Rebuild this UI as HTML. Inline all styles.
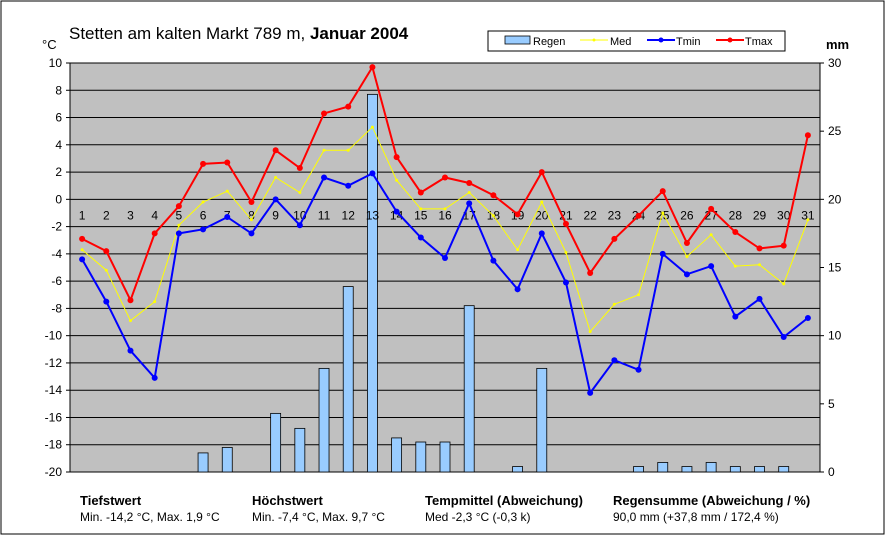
<!DOCTYPE html>
<html><head><meta charset="utf-8"><style>
body{margin:0;background:#fff;width:886px;height:536px;overflow:hidden}
svg{display:block;font-family:"Liberation Sans",Arial,sans-serif}
</style></head><body>
<svg id="s" width="886" height="536" xmlns="http://www.w3.org/2000/svg"></svg>
<script>
var tmax=[-2.9,-3.8,-7.4,-2.5,-0.5,2.6,2.7,-0.2,3.6,2.3,6.3,6.8,9.7,3.1,0.5,1.6,1.2,0.3,-1.1,2.0,-1.8,-5.4,-2.9,-1.2,0.6,-3.2,-0.7,-2.4,-3.6,-3.4,4.7];
var tmin=[-4.4,-7.5,-11.1,-13.1,-2.5,-2.2,-1.3,-2.5,0,-1.9,1.6,1.0,1.9,-0.9,-2.8,-4.3,-0.3,-4.5,-6.6,-2.5,-6.1,-14.2,-11.8,-12.5,-4.0,-5.5,-4.9,-8.6,-7.3,-10.1,-8.7];
var med=[-3.7,-5.2,-8.9,-7.5,-1.9,-0.2,0.6,-1.5,1.6,0.5,3.6,3.6,5.3,1.4,-0.7,-0.7,0.5,-1.2,-3.7,-0.2,-3.9,-9.7,-7.7,-7.0,-1.0,-4.2,-2.6,-4.9,-4.8,-6.2,-1.5];
var rain=[0,0,0,0,0,1.4,1.8,0,4.3,3.2,7.6,13.6,27.7,2.5,2.2,2.2,12.2,0,0.4,7.6,0,0,0,0.4,0.7,0.4,0.7,0.4,0.4,0.4,0];
var X0=70,X1=820,Y0=63,Y1=472,dx=(X1-X0)/31;
function X(i){return X0+dx*(i+0.5)}
function Y(t){return Y0+(10-t)*(Y1-Y0)/30}
function R(m){return Y1-m*(Y1-Y0)/30}
var h='';
h+='<rect x="1" y="1" width="883" height="533" fill="#fff" stroke="#000" stroke-width="1"/>';
h+='<rect x="'+X0+'" y="'+Y0+'" width="'+(X1-X0)+'" height="'+(Y1-Y0)+'" fill="#c0c0c0" stroke="#808080"/>';
for(var t=-20;t<=10;t+=2){var y=Y(t);
 h+='<line x1="'+X0+'" x2="'+X1+'" y1="'+y+'" y2="'+y+'" stroke="#000" stroke-width="1"/>';
 h+='<line x1="'+(X0-4)+'" x2="'+X0+'" y1="'+y+'" y2="'+y+'" stroke="#000"/>';
 h+='<text x="'+(X0-8)+'" y="'+(y+4)+'" font-size="12" text-anchor="end">'+t+'</text>';}
for(var m=0;m<=30;m+=5){var y=R(m);
 h+='<line x1="'+X1+'" x2="'+(X1+4)+'" y1="'+y+'" y2="'+y+'" stroke="#000"/>';
 h+='<text x="'+(X1+8)+'" y="'+(y+4)+'" font-size="12">'+m+'</text>';}
h+='<line x1="'+X1+'" x2="'+X1+'" y1="'+Y0+'" y2="'+Y1+'" stroke="#000"/>';
h+='<line x1="'+X0+'" x2="'+X0+'" y1="'+Y0+'" y2="'+Y1+'" stroke="#000"/>';
for(var i=0;i<31;i++){if(rain[i]>0){var y=R(rain[i]);
 h+='<rect x="'+(X(i)-5)+'" y="'+y+'" width="10" height="'+(Y1-y)+'" fill="#99ccff" stroke="#000" stroke-width="0.8"/>';}}
for(var i=0;i<31;i++)h+='<text x="'+X(i)+'" y="'+(Y(0)+20)+'" font-size="12" text-anchor="middle">'+(i+1)+'</text>';
function line(d,c,w,r){var p=d.map(function(v,i){return X(i).toFixed(1)+','+Y(v).toFixed(1)}).join(' ');
 var s='<polyline points="'+p+'" fill="none" stroke="'+c+'" stroke-width="'+w+'"/>';
 d.forEach(function(v,i){s+='<circle cx="'+X(i)+'" cy="'+Y(v)+'" r="'+r+'" fill="'+c+'"/>'});return s;}
h+=line(med,'#ffff00',1,1.5)+line(tmin,'#0000ff',2,3)+line(tmax,'#ff0000',2,3);
h+='<text x="42" y="49" font-size="13">°C</text><text x="826" y="49" font-size="13" font-weight="bold">mm</text>';
h+='<text x="69" y="39" font-size="17">Stetten am kalten Markt 789 m, <tspan font-weight="bold">Januar 2004</tspan></text>';
h+='<rect x="488" y="31" width="297" height="20" fill="#fff" stroke="#000"/>';
h+='<rect x="505" y="36" width="25" height="8" fill="#99ccff" stroke="#000" stroke-width="0.8"/><text x="533" y="45" font-size="11">Regen</text>';
h+='<line x1="580" x2="608" y1="40" y2="40" stroke="#ffff00"/><circle cx="594" cy="40" r="1.5" fill="#ffff00"/><text x="610" y="45" font-size="11">Med</text>';
h+='<line x1="647" x2="675" y1="40" y2="40" stroke="#0000ff" stroke-width="2"/><circle cx="661" cy="40" r="2.5" fill="#0000ff"/><text x="676" y="45" font-size="11">Tmin</text>';
h+='<line x1="716" x2="744" y1="40" y2="40" stroke="#ff0000" stroke-width="2"/><circle cx="730" cy="40" r="2.5" fill="#ff0000"/><text x="745" y="45" font-size="11">Tmax</text>';
var f=[[80,'Tiefstwert','Min. -14,2 °C, Max. 1,9 °C'],[252,'Höchstwert','Min. -7,4 °C, Max. 9,7 °C'],[425,'Tempmittel (Abweichung)','Med -2,3 °C (-0,3 k)'],[613,'Regensumme (Abweichung / %)','90,0 mm (+37,8 mm / 172,4 %)']];
f.forEach(function(a){h+='<text x="'+a[0]+'" y="505" font-size="13" font-weight="bold">'+a[1]+'</text><text x="'+a[0]+'" y="521" font-size="12">'+a[2]+'</text>'});
document.getElementById('s').innerHTML=h;
</script>
</body></html>
